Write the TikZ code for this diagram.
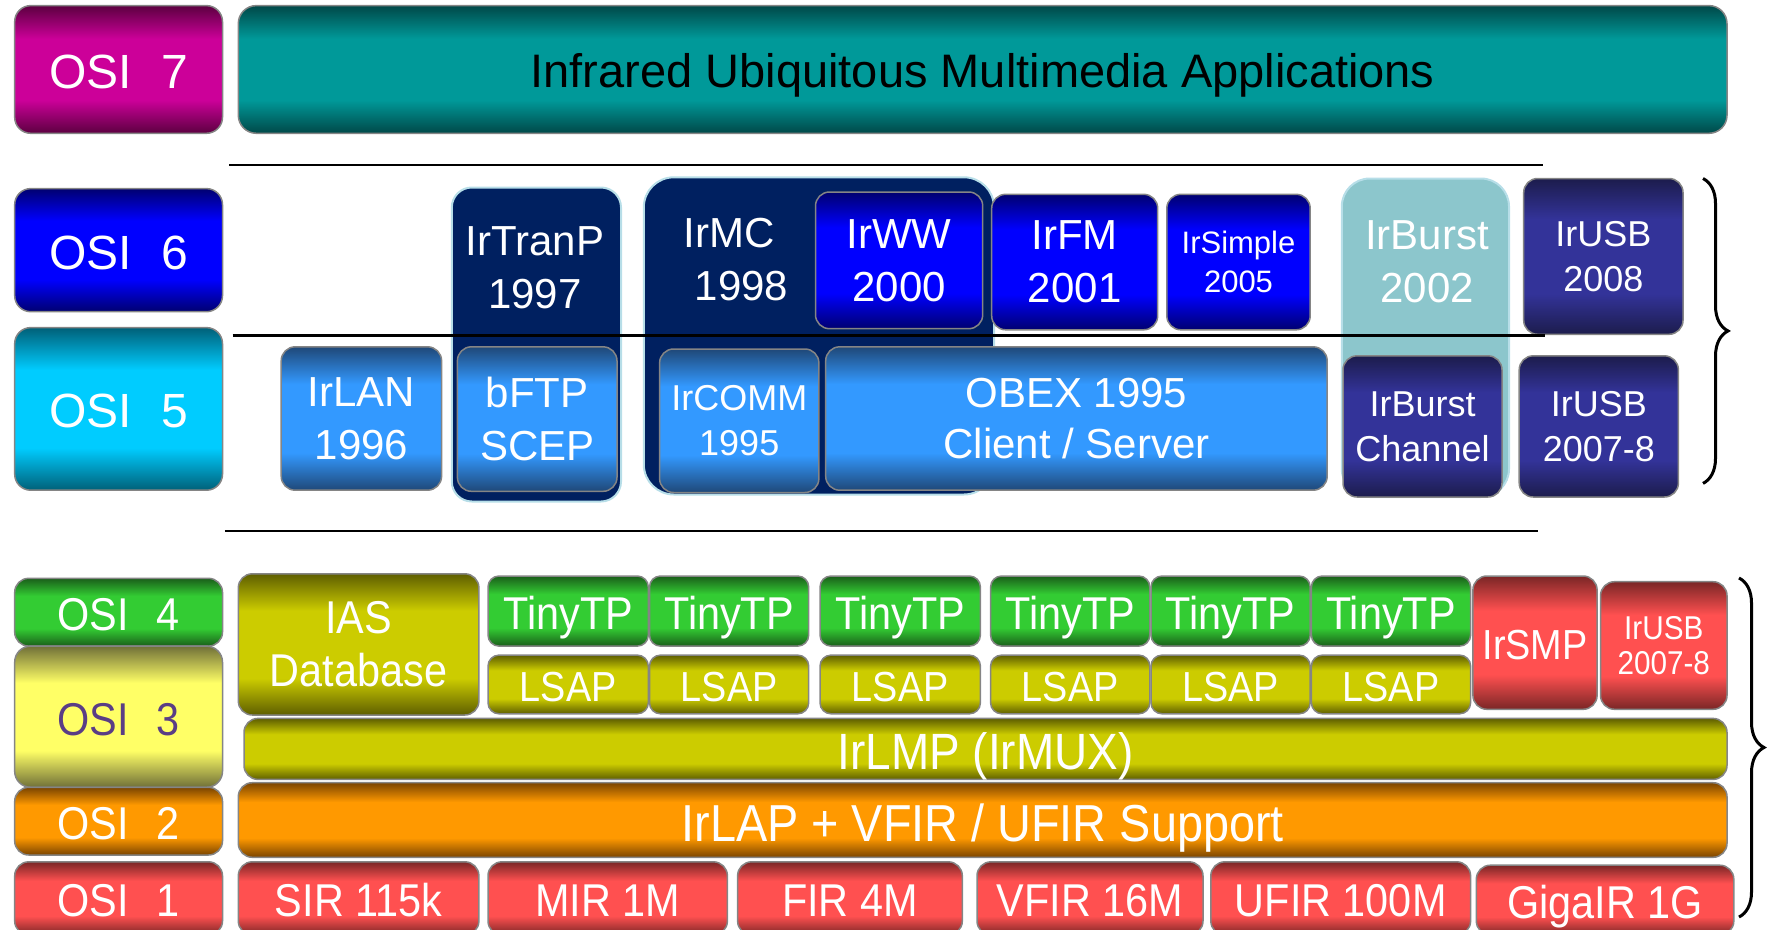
\documentclass[tikz,border=0pt]{standalone}
\usepackage{fontspec}
\setmainfont{Liberation Sans}
\newfontfamily\condfont[FakeStretch=0.9]{Liberation Sans}
\usetikzlibrary{decorations.pathreplacing}

% band colours: dark edge / bright centre
\definecolor{magLo}{HTML}{5C0040}   \definecolor{magHi}{HTML}{CC0099}
\definecolor{tealLo}{HTML}{004848}  \definecolor{tealHi}{HTML}{009999}
\definecolor{blueLo}{HTML}{000070}  \definecolor{blueHi}{HTML}{0000FF}
\definecolor{cyanLo}{HTML}{006078}  \definecolor{cyanHi}{HTML}{00CCFF}
\definecolor{skyLo}{HTML}{1F4878}   \definecolor{skyHi}{HTML}{3399FF}
\definecolor{indLo}{HTML}{1C1C4C}   \definecolor{indHi}{HTML}{333399}
\definecolor{grnLo}{HTML}{1A5E1A}   \definecolor{grnHi}{HTML}{33CC33}
\definecolor{olvLo}{HTML}{5E5E00}   \definecolor{olvHi}{HTML}{CCCC00}
\definecolor{paleLo}{HTML}{707038}  \definecolor{paleHi}{HTML}{FFFF66}
\definecolor{orgLo}{HTML}{7A4400}   \definecolor{orgHi}{HTML}{FF9900}
\definecolor{redLo}{HTML}{7A2626}   \definecolor{redHi}{HTML}{FF5050}
\definecolor{navy}{HTML}{002060}
\definecolor{rimcyan}{HTML}{B7DEE8}
\definecolor{burstteal}{HTML}{8CC6CC}
\definecolor{edgegray}{HTML}{858585}
\definecolor{osipurple}{HTML}{5A3D85}

\newcommand\bandshade[3]{\pgfdeclareverticalshading{#1}{100bp}{color(0bp)=(#2); color(25bp)=(#2); color(38bp)=(#3); color(62bp)=(#3); color(75bp)=(#2); color(100bp)=(#2)}}
\bandshade{magband}{magLo}{magHi}
\bandshade{tealband}{tealLo}{tealHi}
\bandshade{blueband}{blueLo}{blueHi}
\bandshade{cyanband}{cyanLo}{cyanHi}
\bandshade{skyband}{skyLo}{skyHi}
\bandshade{indband}{indLo}{indHi}
\bandshade{grnband}{grnLo}{grnHi}
\bandshade{olvband}{olvLo}{olvHi}
\bandshade{paleband}{paleLo}{paleHi}
\bandshade{orgband}{orgLo}{orgHi}
\bandshade{redband}{redLo}{redHi}

\newcommand\fsz[2]{\fontsize{#1}{#2}\selectfont}

% \blk{name}{options}{x1}{y1}{x2}{y2}{text}: block spanning the given corners
\newcommand\blk[7]{%
  \pgfmathsetmacro\blkw{#5-#3}\pgfmathsetmacro\blkh{#6-#4}%
  \node[#2, minimum width=\blkw pt, minimum height=\blkh pt] (#1) at ({(#3+#5)/2},{(#4+#6)/2}) {#7};}

\begin{document}
\begin{tikzpicture}[x=1pt,y=-1pt,
  box/.style={draw=edgegray, line width=1.5pt, rounded corners=14pt,
              inner sep=0pt, text=white, align=center},
  osibox/.style={box, rounded corners=16pt},
  top48/.style={font=\fsz{48}{56}, text height=38pt, text depth=0pt},
  top42/.style={font=\fsz{42}{53}},
  top36/.style={font=\fsz{36}{45}},
  low46/.style={font=\condfont\fsz{46}{53}, text height=37pt, text depth=0pt},
  low42/.style={font=\condfont\fsz{42}{50}, text height=34pt, text depth=0pt},
  container/.style={draw=rimcyan, line width=2pt, inner sep=0pt},
  sepline/.style={line width=2.5pt, black},
  bracestyle/.style={decorate, decoration={brace, amplitude=25pt}, line width=3pt},
]
\useasboundingbox (0,0) rectangle (1771,929);
\clip (0,0) rectangle (1771,929);

% ---------- OSI layer column ----------
\blk{osi7}{osibox, shading=magband, top48}{14.7}{5.6}{222.5}{133.3}{OSI\hspace{0.6em}7}
\blk{osi6}{osibox, shading=blueband, top48}{14.7}{188.6}{222.5}{311.7}{OSI\hspace{0.6em}6}
\blk{osi5}{osibox, shading=cyanband, top48}{14.7}{327.6}{222.5}{490.2}{OSI\hspace{0.6em}5}
\blk{osi4}{box, shading=grnband, low46}{14.7}{578.3}{222.5}{646.1}{OSI\hspace{0.6em}4}
\blk{osi3}{osibox, shading=paleband, low46, text=osipurple}{14.7}{646.1}{222.5}{787.3}{OSI\hspace{0.6em}3}
\blk{osi2}{box, shading=orgband, low46}{14.7}{787.3}{222.5}{855}{OSI\hspace{0.6em}2}
\blk{osi1}{box, shading=redband, low46}{14.7}{861.8}{222.5}{935}{OSI\hspace{0.6em}1}

% ---------- application layer ----------
\blk{app}{box, rounded corners=18pt, shading=tealband, text=black, font=\fsz{47}{56}, text height=37pt, text depth=0pt}{238.3}{5.6}{1727}{133.3}{Infrared Ubiquitous Multimedia Applications}

% ---------- presentation / session ----------
\blk{tranp}{container, fill=navy, rounded corners=20pt}{451.8}{187.5}{621}{501.5}{}
\node[top42, text=white, align=center] (tranptxt) at (535,268) {IrTranP\\1997};
\blk{bftp}{box, shading=skyband, top42}{457.4}{346.8}{617}{491.3}{bFTP\\SCEP}
\blk{irlan}{box, shading=skyband, top42}{281.2}{346.8}{441.6}{490.2}{IrLAN\\1996}

\blk{irmc}{container, fill=navy, rounded corners=30pt}{643.8}{177.3}{994}{494.5}{}
\node[top42, text=white, align=center] (irmctxt) at (729,260) {IrMC\\\hspace{0.6em}1998};
\blk{irww}{box, shading=blueband, top42}{815.5}{192}{982.7}{328.7}{IrWW\\2000}
\blk{irfm}{box, shading=blueband, top42}{991.7}{194.3}{1157.7}{329.8}{IrFM\\2001}
\blk{irsimple}{box, shading=blueband, font=\fsz{31}{38.5}}{1166.8}{194.3}{1310.2}{329.8}{IrSimple\\2005}
\blk{ircomm}{box, shading=skyband, top36}{659.6}{349}{818.9}{492.5}{IrCOMM\\1995}
\blk{obex}{box, shading=skyband, font=\fsz{42}{51}}{825.7}{346.8}{1327.2}{490.2}{OBEX 1995\\Client / Server}

\blk{irburst}{container, fill=burstteal, rounded corners=28pt}{1341.8}{178.5}{1509}{497}{}
\node[top42, text=white, align=center] (irbursttxt) at (1427,262) {IrBurst\\2002};
\blk{burstch}{box, shading=indband, top36}{1343}{355.8}{1502}{497}{IrBurst\\Channel}
\blk{usb8}{box, shading=indband, top36}{1523.7}{178.5}{1683}{334.3}{IrUSB\\2008}
\blk{usb78}{box, shading=indband, top36}{1519.2}{355.8}{1678.4}{497}{IrUSB\\2007-8}

% ---------- transport / network ----------
\blk{ias}{box, shading=olvband, font=\condfont\fsz{46}{53}}{238.3}{573.8}{478.9}{715}{IAS\\Database}
\foreach \i/\xa/\xb in {1/488/648.3, 2/649.5/808.7, 3/820/980.4, 4/990.6/1149.8, 5/1151/1310.2, 6/1311.4/1470.6}{
  \blk{tiny\i}{box, rounded corners=11pt, shading=grnband, low46}{\xa}{576}{\xb}{646.1}{TinyTP}
  \blk{lsap\i}{box, rounded corners=11pt, shading=olvband, low42}{\xa}{655.1}{\xb}{713.8}{LSAP}
}
\blk{irsmp}{box, shading=redband, low42}{1472.9}{576}{1597.1}{709.3}{IrSMP}
\blk{usbred}{box, shading=redband, font=\condfont\fsz{33}{35}}{1600.5}{581.7}{1727}{709.3}{IrUSB\\2007-8}
\blk{irlmp}{box, shading=olvband, font=\condfont\fsz{51}{56}, text height=41pt, text depth=0pt}{244}{718.4}{1727}{779.4}{IrLMP (IrMUX)}

% ---------- link / physical ----------
\blk{irlap}{box, shading=orgband, font=\condfont\fsz{52}{58}, text height=42pt, text depth=0pt}{238.3}{782.7}{1727}{857.3}{IrLAP~+~VFIR / UFIR Support}
\blk{sir}{box, shading=redband, low46}{238.3}{861.8}{478.9}{935}{SIR 115k}
\blk{mir}{box, shading=redband, low46}{488}{861.8}{727.4}{935}{MIR 1M}
\blk{fir}{box, shading=redband, low46}{737.6}{861.8}{962.3}{935}{FIR 4M}
\blk{vfir}{box, shading=redband, low46}{977}{861.8}{1203}{935}{VFIR 16M}
\blk{ufir}{box, shading=redband, low46}{1210.8}{861.8}{1470.6}{935}{UFIR 100M}
\blk{giga}{box, shading=redband, low46}{1476.3}{865.2}{1733.8}{935}{GigaIR 1G}

% ---------- separators ----------
\coordinate (s1a) at (229.3,164.9);  \coordinate (s1b) at (1543,164.9);
\coordinate (s2a) at (232.7,335.5);  \coordinate (s2b) at (1545,335.5);
\coordinate (s3a) at (224.8,530.9);  \coordinate (s3b) at (1538.4,530.9);
\draw[sepline] (s1a) -- (s1b);
\draw[sepline] (s2a) -- (s2b);
\draw[sepline] (s3a) -- (s3b);

% ---------- braces ----------
\coordinate (br1a) at (1703,178.5);  \coordinate (br1b) at (1703,483.4);
\coordinate (br2a) at (1739,578);    \coordinate (br2b) at (1739,917);
\draw[bracestyle] (br1a) -- (br1b);
\draw[bracestyle] (br2a) -- (br2b);
\end{tikzpicture}
\end{document}
